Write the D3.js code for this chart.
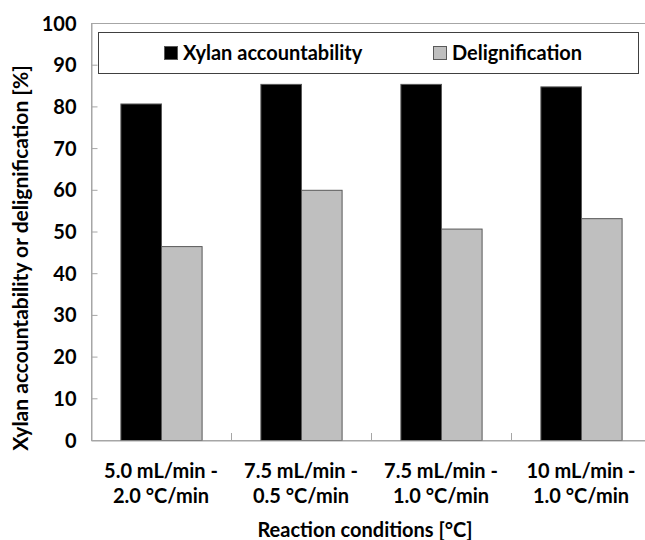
<!DOCTYPE html>
<html lang="en">
<head>
  <meta charset="UTF-8">
  <title>Xylan accountability and delignification</title>
  <script src="https://d3js.org/d3.v7.min.js"></script>
  <style>
    body { margin: 0; background: #fff; }
    text { font-family: 'Lato', 'Open Sans', sans-serif; font-weight: 700; fill: #000; }
  </style>
</head>
<body>
<div id="chart"></div>
<script>
    // data
    const categories = [
        ["5.0 mL/min -", "2.0 °C/min"],
        ["7.5 mL/min -", "0.5 °C/min"],
        ["7.5 mL/min -", "1.0 °C/min"],
        ["10 mL/min -", "1.0 °C/min"]
    ];
    const seriesNames = ["Xylan accountability", "Delignification"];
    const xylan = [80.7, 85.4, 85.4, 84.8];
    const delignification = [46.5, 60.0, 50.7, 53.2];
    const yTicks = [0, 10, 20, 30, 40, 50, 60, 70, 80, 90, 100];
    const colors = ["#000000", "#bfbfbf"];

    const W = 645, H = 540;
    const plot = { left: 91, top: 23, right: 651, bottom: 440 };
    const fontSize = "20px";

    const svg = d3.select("#chart").append("svg")
        .attr("width", W)
        .attr("height", H);

    const catKeys = categories.map((c, i) => i);
    const x0 = d3.scaleBand()
        .domain(catKeys)
        .range([plot.left, plot.right]);
    const x1 = d3.scaleBand()
        .domain(seriesNames)
        .range([x0.bandwidth() * 0.21, x0.bandwidth() * 0.79]);
    const y = d3.scaleLinear()
        .domain([0, 100])
        .range([plot.bottom, plot.top]);

    // plot area border
    svg.append("rect")
        .attr("x", plot.left + 0.5)
        .attr("y", plot.top + 0.5)
        .attr("width", plot.right - plot.left)
        .attr("height", plot.bottom - plot.top)
        .attr("fill", "none")
        .attr("stroke", "#a6a6a6");

    // bars
    const rows = categories.map((c, i) => ({ i: i, values: [xylan[i], delignification[i]] }));
    const groups = svg.append("g").selectAll("g")
        .data(rows)
        .join("g")
        .attr("transform", d => `translate(${x0(d.i)},0)`);

    groups.selectAll("rect")
        .data(d => d.values.map((v, k) => ({ name: seriesNames[k], v: v, k: k })))
        .join("rect")
        .attr("x", d => x1(d.name) + 0.5)
        .attr("y", d => y(d.v) + 0.5)
        .attr("width", x1.bandwidth())
        .attr("height", d => y(0) - y(d.v))
        .attr("fill", d => colors[d.k])
        .attr("stroke", "#595959")
        .attr("stroke-width", 1);

    // y axis
    const yAxis = svg.append("g")
        .attr("transform", `translate(${plot.left + 0.5},0)`)
        .call(d3.axisLeft(y).tickValues(yTicks).tickSize(-6).tickPadding(15));
    yAxis.select(".domain").attr("stroke", "#a6a6a6");
    yAxis.selectAll(".tick line").attr("stroke", "#a6a6a6");
    yAxis.selectAll(".tick text")
        .style("font-size", fontSize)
        .attr("dy", "0.35em");

    // x axis
    const xAxis = svg.append("g")
        .attr("transform", `translate(0,${plot.bottom + 0.5})`)
        .call(d3.axisBottom(x0).tickSize(0).tickFormat(""));
    xAxis.select(".domain").attr("stroke", "#a6a6a6");
    xAxis.selectAll(".tick").remove();

    // category separators (inside ticks)
    svg.append("g").selectAll("line")
        .data(catKeys.slice(1))
        .join("line")
        .attr("x1", d => x0(d) + 0.5)
        .attr("x2", d => x0(d) + 0.5)
        .attr("y1", plot.bottom)
        .attr("y2", plot.bottom - 7)
        .attr("stroke", "#a6a6a6");

    // category labels
    const catLabels = svg.append("g").selectAll("text")
        .data(rows)
        .join("text")
        .attr("x", d => x0(d.i) + x0.bandwidth() / 2)
        .attr("y", 478)
        .attr("text-anchor", "middle")
        .style("font-size", fontSize);
    catLabels.append("tspan")
        .attr("x", d => x0(d.i) + x0.bandwidth() / 2)
        .text(d => categories[d.i][0]);
    catLabels.append("tspan")
        .attr("x", d => x0(d.i) + x0.bandwidth() / 2)
        .attr("dy", 25)
        .text(d => categories[d.i][1]);

    // axis titles
    svg.append("text")
        .attr("x", 365)
        .attr("y", 537)
        .attr("text-anchor", "middle")
        .style("font-size", fontSize)
        .text("Reaction conditions [°C]");

    svg.append("text")
        .attr("transform", `translate(28, 258) rotate(-90)`)
        .attr("text-anchor", "middle")
        .style("font-size", "21px")
        .text("Xylan accountability or delignification [%]");

    // legend
    const legend = svg.append("g");
    legend.append("rect")
        .attr("x", 98.5)
        .attr("y", 32.5)
        .attr("width", 540)
        .attr("height", 41)
        .attr("fill", "#fff")
        .attr("stroke", "#404040");

    const legendX = [164, 433];
    const items = legend.selectAll("g")
        .data(seriesNames)
        .join("g")
        .attr("transform", (d, i) => `translate(${legendX[i]},53)`);
    items.append("rect")
        .attr("x", 0.5)
        .attr("y", -6.5)
        .attr("width", 13)
        .attr("height", 13)
        .attr("fill", (d, i) => colors[i])
        .attr("stroke", "#595959");
    items.append("text")
        .attr("x", 19)
        .attr("dy", "0.35em")
        .style("font-size", fontSize)
        .text(d => d);
</script>
</body>
</html>
